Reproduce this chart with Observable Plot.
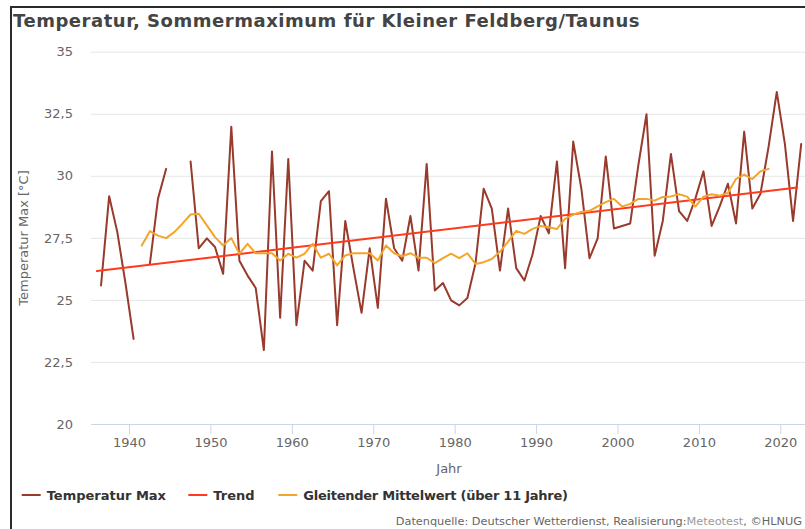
<!DOCTYPE html>
<html><head><meta charset="utf-8">
<script src="https://cdn.jsdelivr.net/npm/d3@7"></script>
<script src="https://cdn.jsdelivr.net/npm/@observablehq/plot@0.6"></script>
<style>
html,body{margin:0;padding:0;background:#fff}
body{width:805px;height:529px;overflow:hidden;position:relative;font-family:"DejaVu Sans",Verdana,sans-serif}
#frame{position:absolute;left:10px;top:6px;width:900px;height:600px;border-left:2px solid #2b2b2b;border-top:2px solid #2b2b2b;box-sizing:border-box}
#chart{position:absolute;left:0;top:0}
#overlay{position:absolute;left:0;top:0;pointer-events:none}
</style>
</head><body>
<div id="frame"></div>
<div id="chart"></div>
<svg id="overlay" width="805" height="529"></svg>
<script>
// ---- data ----
const years = [1936,1937,1938,1939,1940,1941,1942,1943,1944,1945,1946,1947,1948,1949,1950,1951,1952,1953,1954,1955,1956,1957,1958,1959,1960,1961,1962,1963,1964,1965,1966,1967,1968,1969,1970,1971,1972,1973,1974,1975,1976,1977,1978,1979,1980,1981,1982,1983,1984,1985,1986,1987,1988,1989,1990,1991,1992,1993,1994,1995,1996,1997,1998,1999,2000,2001,2002,2003,2004,2005,2006,2007,2008,2009,2010,2011,2012,2013,2014,2015,2016,2017,2018,2019,2020,2021,2022];
const tempMax = [25.6,29.2,27.75,25.7,23.45,null,26.47,29.1,30.3,null,null,30.6,27.1,27.5,27.15,26.07,32.0,26.6,26.0,25.5,23.0,31.0,24.3,30.7,24.0,26.6,26.2,29.0,29.4,24.0,28.2,26.3,24.5,27.1,24.7,29.1,27.1,26.6,28.4,26.2,30.5,25.4,25.7,25.0,24.8,25.1,26.5,29.5,28.7,26.2,28.7,26.3,25.8,26.85,28.4,27.7,30.6,26.3,31.4,29.5,26.7,27.5,30.8,27.9,28.0,28.1,30.45,32.5,26.8,28.2,30.9,28.6,28.2,29.1,30.2,28.0,28.8,29.7,28.1,31.8,28.7,29.3,31.2,33.4,31.3,28.2,31.3];
const maYears = [1941,1942,1943,1944,1945,1946,1947,1948,1949,1950,1951,1952,1953,1954,1955,1956,1957,1958,1959,1960,1961,1962,1963,1964,1965,1966,1967,1968,1969,1970,1971,1972,1973,1974,1975,1976,1977,1978,1979,1980,1981,1982,1983,1984,1985,1986,1987,1988,1989,1990,1991,1992,1993,1994,1995,1996,1997,1998,1999,2000,2001,2002,2003,2004,2005,2006,2007,2008,2009,2010,2011,2012,2013,2014,2015,2016,2017,2018];
const maValues = [27.21,27.79,27.61,27.51,27.75,28.09,28.46,28.49,28.02,27.55,27.21,27.51,26.88,27.28,26.9,26.9,26.9,26.61,26.88,26.72,26.88,27.28,26.72,26.88,26.41,26.81,26.9,26.9,26.9,26.61,27.21,26.9,26.78,26.9,26.72,26.72,26.5,26.7,26.88,26.7,26.9,26.47,26.54,26.67,26.96,27.37,27.8,27.68,27.88,28.0,27.95,27.88,28.28,28.46,28.56,28.61,28.79,28.96,29.09,28.78,28.89,29.09,29.09,29.02,29.17,29.19,29.28,29.18,28.78,29.18,29.28,29.22,29.33,29.9,30.07,29.89,30.2,30.3];
const trendYears = [1936, 2022];
const trendValues = [26.18, 29.55];
const yTicks = [20, 22.5, 25, 27.5, 30, 32.5, 35];
const xTicks = [1940, 1950, 1960, 1970, 1980, 1990, 2000, 2010, 2020];
const seriesNames = ["Temperatur Max", "Trend", "Gleitender Mittelwert (über 11 Jahre)"];
const seriesColors = ["#983a2c", "#ff3a1c", "#f3a52b"];

// yearly values are plotted at mid-year
const tData = years.map((yr, i) => ({x: yr + 0.5, y: tempMax[i]}));
const maData = maYears.map((yr, i) => ({x: yr + 0.5, y: maValues[i]}));
const trendData = trendYears.map((yr, i) => ({x: yr, y: trendValues[i]}));

const chart = Plot.plot({
  width: 805, height: 529,
  marginLeft: 91, marginRight: 0, marginTop: 51.7, marginBottom: 105,
  style: {fontFamily: '"DejaVu Sans", Verdana, sans-serif', fontSize: "13px", background: "transparent", overflow: "visible"},
  x: {domain: [1935.33, 2023.03]},
  y: {domain: [20, 35]},
  marks: [
    Plot.ruleY(yTicks.slice(1), {stroke: "#e6e6e6", strokeWidth: 1}),
    Plot.ruleY([20], {stroke: "#ccd6eb", strokeWidth: 1}),
    Plot.axisX(xTicks, {tickSize: 10, tickPadding: 3, stroke: "#ccd6eb", fill: "#666", tickFormat: d => String(d), label: null}),
    Plot.axisY(yTicks, {tickSize: 0, tickPadding: 18.5, fill: "#666", tickFormat: d => String(d).replace(".", ","), label: null}),
    Plot.line(tData, {x: "x", y: "y", stroke: seriesColors[0], strokeWidth: 2, strokeLinejoin: "round"}),
    Plot.line(trendData, {x: "x", y: "y", stroke: seriesColors[1], strokeWidth: 2}),
    Plot.line(maData, {x: "x", y: "y", stroke: seriesColors[2], strokeWidth: 2, strokeLinejoin: "round"})
  ]
});
document.getElementById("chart").appendChild(chart);

// ---- texts: title, axis titles, legend, caption ----
const ov = d3.select("#overlay").style("font-family", '"DejaVu Sans", Verdana, sans-serif');
ov.append("text").attr("x", 13).attr("y", 27).attr("font-size", 18).attr("font-weight", "bold").attr("fill", "#444")
  .attr("letter-spacing", 0.53)
  .text("Temperatur, Sommermaximum für Kleiner Feldberg/Taunus");
ov.append("text").attr("transform", "translate(28,238) rotate(-90)").attr("text-anchor", "middle")
  .attr("font-size", 13).attr("fill", "#666").text("Temperatur Max [°C]");
ov.append("text").attr("x", 449).attr("y", 472.5).attr("text-anchor", "middle")
  .attr("font-size", 13).attr("fill", "#666").text("Jahr");
const legendX = [21.7, 188.3, 278.3];
const legendSpacing = [0, 0, -0.25];
seriesNames.forEach((name, i) => {
  ov.append("line").attr("x1", legendX[i]).attr("x2", legendX[i] + 19).attr("y1", 495).attr("y2", 495)
    .attr("stroke", seriesColors[i]).attr("stroke-width", 2);
  ov.append("text").attr("x", legendX[i] + 25).attr("y", 499.5).attr("font-size", 13).attr("font-weight", "bold")
    .attr("letter-spacing", legendSpacing[i]).attr("fill", "#333").text(name);
});
const cap = ov.append("text").attr("x", 802).attr("y", 524.5).attr("text-anchor", "end").attr("font-size", 11.3).attr("fill", "#666");
cap.append("tspan").text("Datenquelle: Deutscher Wetterdienst, Realisierung:");
cap.append("tspan").attr("fill", "#9a9a9a").text("Meteotest");
cap.append("tspan").text(", ©HLNUG");
</script>
</body></html>
